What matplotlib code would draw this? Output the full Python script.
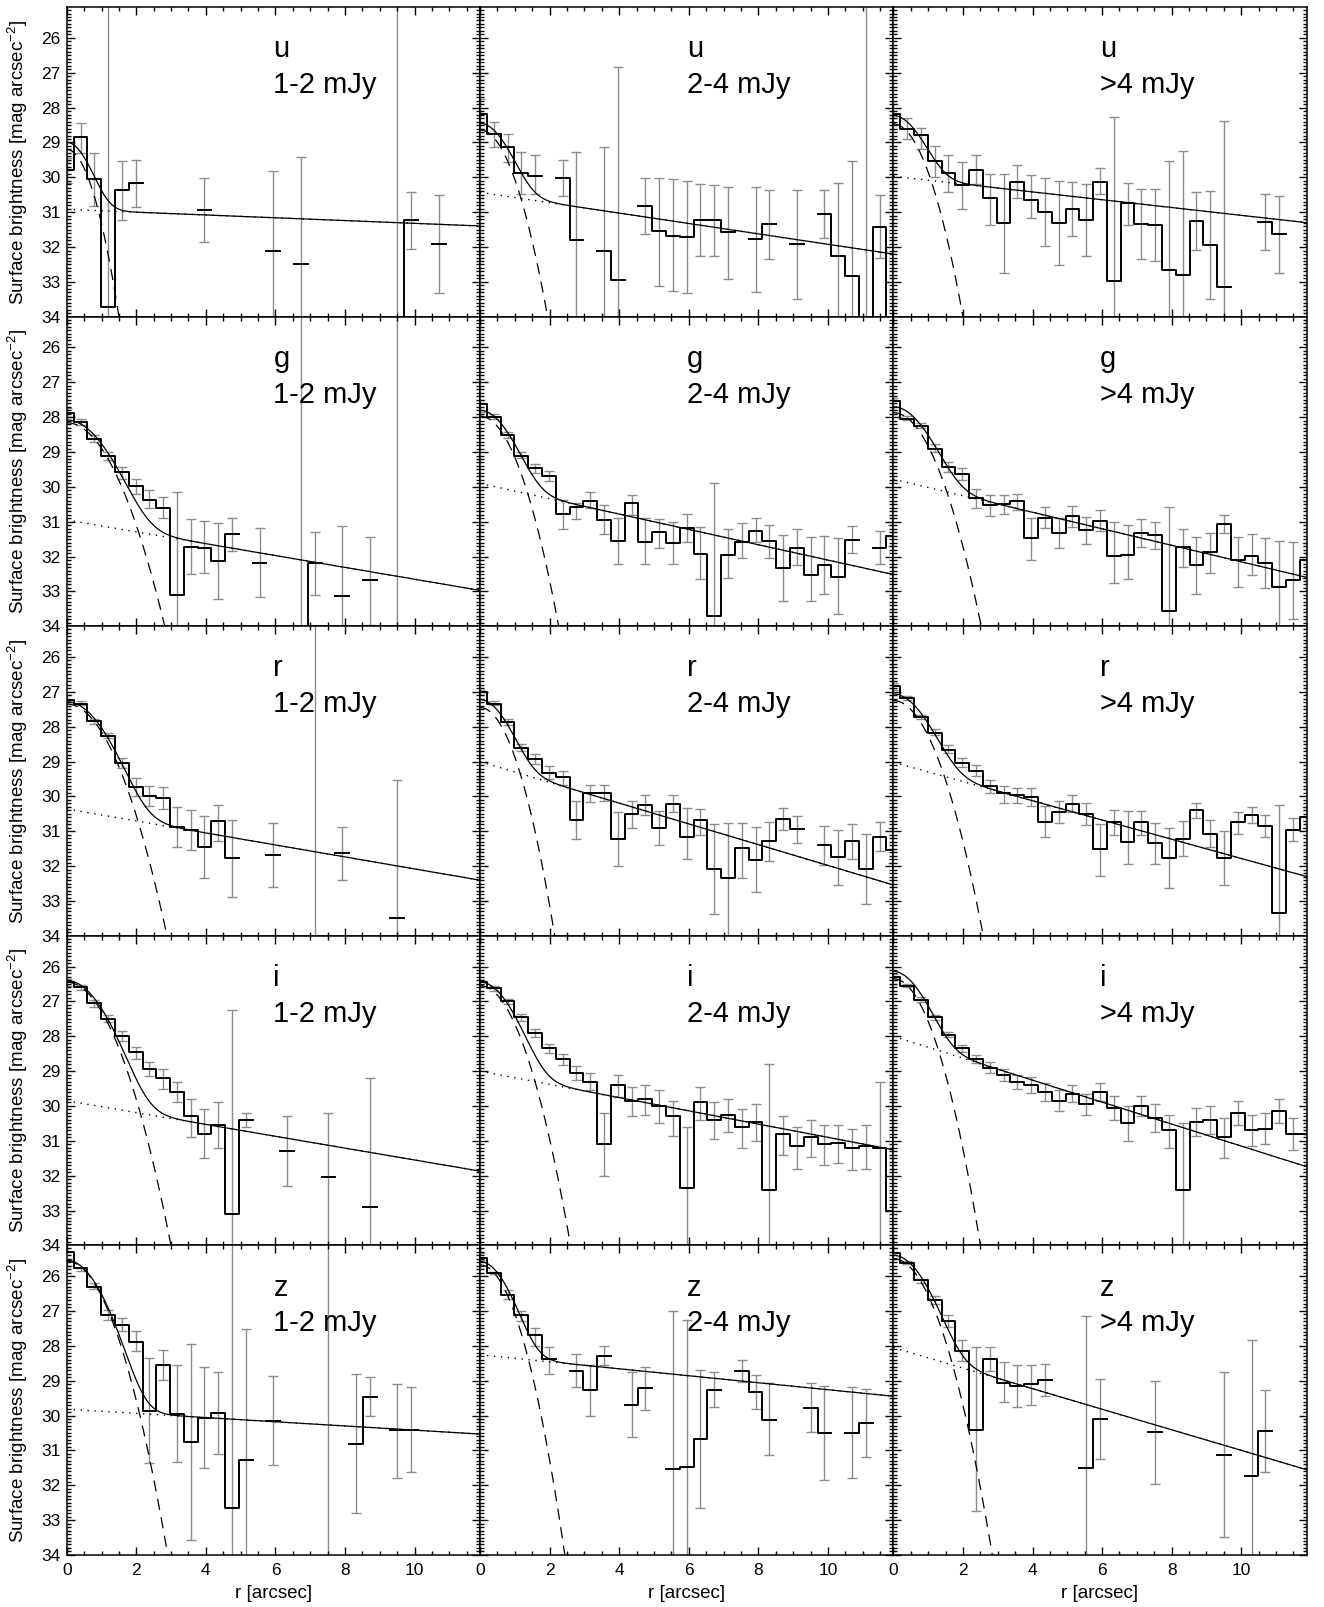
"""
Radial surface-brightness profiles, u g r i z bands x three flux bins.
Step histogram = stacked profile, grey bars = errors,
dashed = PSF component, dotted = extended component, solid = sum.
"""
import numpy as np
import matplotlib
matplotlib.use("Agg")
import matplotlib.pyplot as plt
from matplotlib.ticker import MultipleLocator

plt.rcParams["font.family"] = ["Liberation Sans", "DejaVu Sans"]
plt.rcParams["mathtext.fontset"] = "custom"
plt.rcParams["mathtext.rm"] = "Liberation Sans"

N = None

# ── bin centres [arcsec] (one SDSS pixel = 0.396") ───────────────
R_BINS = [0.0, 0.396, 0.792, 1.188, 1.584, 1.98, 2.376, 2.772, 3.168, 3.564,
          3.96, 4.356, 4.752, 5.148, 5.544, 5.94, 6.336, 6.732, 7.128, 7.524,
          7.92, 8.316, 8.712, 9.108, 9.504, 9.9, 10.296, 10.692, 11.088, 11.484,
          11.88]

BANDS = ["u", "g", "r", "i", "z"]
FLUX_LABELS = ["1-2 mJy", "2-4 mJy", ">4 mJy"]

# ── u band ────────────────────────────────────────────────────────
U1_SB = [29.80, 28.84, 30.06, 33.71, 30.35, 30.17, N, N, N, N,
         30.93, N, N, N, N, 32.10, N, 32.48, N, N,
         N, N, N, N, 35.0, 31.23, N, 31.90, N, N,
         N]
U1_LO = [29.45, 28.45, 29.29, 20.0, 29.53, 29.51, N, N, N, N,
         30.01, N, N, N, N, 29.82, N, 29.43, N, N,
         N, N, N, N, 20.0, 30.42, N, 30.51, N, N,
         N]
U1_HI = [30.15, 29.30, 30.81, 40.0, 31.21, 30.85, N, N, N, N,
         31.86, N, N, N, N, 36.0, N, 36.0, N, N,
         N, N, N, N, 40.0, 32.06, N, 33.31, N, N,
         N]

U2_SB = [28.18, 28.76, 29.14, 29.88, 29.95, N, 30.01, 31.80, N, 32.10,
         32.94, N, 30.81, 31.55, 31.67, 31.72, 31.23, 31.23, 31.58, N,
         31.78, 31.33, N, 31.91, N, 31.04, 32.25, 32.82, 35.0, 31.42,
         35.0]
U2_LO = [27.75, 28.42, 28.76, 29.26, 29.36, N, 29.49, 29.26, N, 29.13,
         26.84, N, 30.01, 30.01, 30.06, 30.11, 30.20, 30.23, 30.27, N,
         30.27, 30.37, N, 30.35, N, 30.37, 30.17, 29.53, 20.0, 30.51,
         N]
U2_HI = [28.60, 29.12, 29.57, 30.47, 30.47, N, 30.54, 36.0, N, 36.0,
         36.0, N, 31.62, 33.13, 33.26, 33.33, 32.25, 32.27, 32.92, N,
         33.28, 32.35, N, 33.49, N, 31.75, 36.0, 36.0, 40.0, 32.32,
         N]

U3_SB = [28.18, 28.60, 28.79, 29.53, 29.88, 30.23, 29.79, 30.59, 31.31, 30.12,
         30.65, 31.00, 31.31, 30.90, 31.23, 30.13, 32.96, 30.75, 31.33, 31.38,
         32.65, 32.80, 31.26, 31.95, 33.16, N, N, 31.28, 31.63, N,
         N]
U3_LO = [27.90, 28.30, 28.59, 29.10, 29.36, 29.56, 29.37, 29.89, 29.89, 29.65,
         29.93, 30.01, 30.10, 30.13, 30.18, 29.74, 28.28, 30.15, 30.33, 30.33,
         29.53, 29.24, 30.41, 30.38, 28.39, N, N, 30.49, 30.54, N,
         N]
U3_HI = [28.50, 28.90, 29.19, 30.00, 30.41, 30.92, 30.20, 31.38, 32.73, 30.59,
         31.16, 31.96, 32.51, 31.69, 32.27, 30.47, 36.0, 31.38, 32.34, 32.41,
         36.0, 36.0, 32.08, 33.50, 36.0, N, N, 32.08, 32.73, N,
         N]

# ── g band ────────────────────────────────────────────────────────
G1_SB = [27.87, 28.13, 28.63, 29.11, 29.58, 29.98, 30.39, 30.62, 33.10, 31.72,
         31.74, 32.13, 31.35, N, 32.17, N, N, 35.0, 32.18, N,
         33.13, N, 32.68, N, N, N, N, N, N, N,
         N]
G1_LO = [27.75, 28.06, 28.51, 28.99, 29.42, 29.78, 30.09, 30.28, 30.14, 30.93,
         30.97, 31.05, 30.88, N, 31.19, N, N, 20.0, 31.29, N,
         31.12, N, 31.45, N, 20.0, N, N, N, N, N,
         N]
G1_HI = [28.00, 28.23, 28.72, 29.23, 29.76, 30.19, 30.62, 30.90, 36.0, 32.51,
         32.48, 33.22, 31.84, N, 33.15, N, N, 40.0, 33.10, N,
         36.0, N, 33.95, N, 40.0, N, N, N, N, N,
         N]

G2_SB = [27.61, 27.99, 28.51, 29.11, 29.45, 29.69, 30.78, 30.59, 30.40, 30.95,
         31.55, 30.47, 31.57, 31.30, 31.60, 31.19, 31.93, 33.70, 31.94, 31.57,
         31.26, 31.55, 32.34, 31.74, 32.53, 32.24, 32.58, 31.53, N, 31.74,
         31.40]
G2_LO = [27.50, 27.91, 28.42, 28.99, 29.33, 29.54, 30.38, 30.45, 30.14, 30.52,
         30.88, 30.24, 30.90, 30.92, 31.00, 30.78, 31.16, 29.90, 31.22, 31.05,
         30.90, 31.10, 31.38, 31.21, 31.45, 31.41, 31.48, 31.11, N, 31.26,
         31.10]
G2_HI = [27.85, 28.06, 28.59, 29.18, 29.60, 29.82, 31.21, 30.92, 30.62, 31.35,
         32.21, 30.81, 32.22, 31.76, 32.21, 31.57, 32.64, 36.0, 32.62, 32.05,
         31.57, 32.03, 33.28, 32.24, 33.28, 33.06, 33.66, 31.91, N, 32.20,
         31.70]

G3_SB = [27.54, 28.04, 28.26, 28.90, 29.42, 29.63, 30.33, 30.52, 30.50, 30.40,
         31.48, 30.89, 31.31, 30.84, 31.24, 30.97, 31.98, 31.96, 31.31, 31.38,
         33.55, 31.72, 32.24, 31.88, 31.07, 32.10, 31.98, 32.17, 32.88, 32.67,
         32.10]
G3_LO = [27.45, 27.97, 28.18, 28.78, 29.28, 29.47, 30.06, 30.24, 30.24, 30.19,
         30.88, 30.57, 30.88, 30.54, 30.86, 30.67, 31.00, 31.10, 30.92, 31.00,
         30.57, 31.21, 31.43, 31.31, 30.81, 31.43, 31.36, 31.46, 31.55, 31.57,
         31.60]
G3_HI = [27.80, 28.08, 28.32, 28.99, 29.57, 29.79, 30.60, 30.84, 30.79, 30.67,
         32.10, 31.19, 31.76, 31.14, 31.64, 31.26, 32.75, 32.64, 31.72, 31.79,
         36.0, 32.29, 33.08, 32.48, 31.31, 32.86, 32.53, 32.89, 36.0, 33.79,
         32.60]

# ── r band ────────────────────────────────────────────────────────
R1_SB = [27.22, 27.34, 27.85, 28.26, 29.04, 29.73, 30.00, 30.04, 30.89, 30.97,
         31.46, 30.71, 31.78, N, N, 31.69, N, N, N, N,
         31.62, N, N, N, 33.50, N, N, N, N, N,
         N]
R1_LO = [27.10, 27.27, 27.78, 28.18, 28.90, 29.47, 29.69, 29.74, 30.31, 30.40,
         30.57, 30.26, 30.68, N, N, 30.76, N, N, 20.0, N,
         30.89, N, N, N, 29.52, N, N, N, N, N,
         N]
R1_HI = [27.30, 27.37, 27.92, 28.32, 29.18, 30.00, 30.28, 30.35, 31.46, 31.55,
         32.34, 31.29, 32.88, N, N, 32.60, N, N, 40.0, N,
         32.39, N, N, N, 36.0, N, N, N, N, N,
         N]

R2_SB = [27.00, 27.34, 27.86, 28.61, 28.92, 29.33, 29.45, 30.68, 29.90, 29.90,
         31.21, 30.50, 30.25, 30.90, 30.21, 31.17, 30.69, 32.07, 32.34, 31.48,
         31.81, 31.29, 30.65, 30.93, N, 31.40, 31.75, 31.29, 32.07, 31.16,
         31.55]
R2_LO = [26.95, 27.27, 27.77, 28.49, 28.77, 29.14, 29.28, 30.14, 29.66, 29.68,
         30.45, 30.14, 29.97, 30.43, 29.95, 30.33, 30.35, 30.78, 30.76, 30.76,
         30.89, 30.74, 30.33, 30.55, N, 30.84, 30.97, 30.79, 31.07, 30.73,
         30.90]
R2_HI = [27.10, 27.39, 27.94, 28.71, 29.07, 29.50, 29.66, 31.22, 30.16, 30.14,
         32.00, 30.90, 30.54, 31.40, 30.45, 31.79, 31.10, 33.37, 36.0, 32.34,
         32.74, 31.84, 30.95, 31.33, N, 31.98, 32.53, 31.79, 33.08, 31.57,
         31.90]

R3_SB = [26.84, 27.18, 27.72, 28.18, 28.66, 29.04, 29.26, 29.71, 29.90, 29.95,
         30.02, 30.74, 30.45, 30.22, 30.50, 31.51, 30.74, 31.31, 30.74, 31.33,
         31.76, 31.21, 30.40, 31.08, 31.76, 30.74, 30.54, 30.86, 33.34, 30.95,
         30.59]
R3_LO = [26.75, 27.13, 27.65, 28.08, 28.53, 28.90, 29.09, 29.52, 29.71, 29.76,
         29.76, 30.28, 30.12, 29.97, 30.19, 30.78, 30.38, 30.43, 30.43, 30.76,
         30.90, 30.71, 30.19, 30.68, 30.98, 30.45, 30.30, 30.54, 30.24, 30.62,
         30.30]
R3_HI = [26.95, 27.22, 27.78, 28.25, 28.75, 29.15, 29.42, 29.90, 30.19, 30.19,
         30.28, 31.17, 30.76, 30.45, 30.83, 32.29, 31.10, 31.94, 31.10, 31.93,
         32.63, 31.70, 30.62, 31.45, 32.55, 31.07, 30.76, 31.17, 36.0, 31.27,
         30.90]

# ── i band ────────────────────────────────────────────────────────
I1_SB = [26.45, 26.60, 27.05, 27.50, 28.00, 28.45, 28.95, 29.20, 29.60, 30.30,
         30.80, 30.55, 33.10, 30.40, N, N, 31.30, N, N, 32.05,
         N, N, 32.90, N, N, N, N, N, N, N,
         N]
I1_LO = [26.35, 26.52, 26.95, 27.40, 27.85, 28.30, 28.75, 28.95, 29.30, 29.80,
         30.10, 29.90, 27.25, 30.20, N, N, 30.30, N, N, 30.20,
         N, N, 29.20, N, N, N, N, N, N, N,
         N]
I1_HI = [26.55, 26.68, 27.15, 27.60, 28.15, 28.65, 29.15, 29.50, 29.90, 30.90,
         31.50, 31.20, 36.0, 30.60, N, N, 32.30, N, N, 36.0,
         N, N, 36.0, N, N, N, N, N, N, N,
         N]

I2_SB = [26.45, 26.62, 27.00, 27.45, 27.90, 28.35, 28.65, 29.05, 29.30, 31.10,
         29.40, 29.85, 29.80, 30.00, 30.30, 32.35, 29.90, 30.40, 30.25, 30.60,
         30.45, 32.40, 30.80, 31.15, 30.90, 31.10, 31.05, 31.20, 31.15, 31.20,
         33.00]
I2_LO = [26.38, 26.56, 26.92, 27.36, 27.80, 28.22, 28.50, 28.85, 29.05, 30.20,
         29.10, 29.45, 29.40, 29.55, 29.85, 30.60, 29.45, 29.90, 29.80, 30.10,
         29.95, 28.80, 30.30, 30.60, 30.40, 30.55, 30.55, 30.65, 30.55, 29.30,
         N]
I2_HI = [26.55, 26.70, 27.08, 27.55, 28.02, 28.48, 28.82, 29.25, 29.55, 32.00,
         29.75, 30.30, 30.25, 30.50, 30.85, 36.0, 30.40, 30.95, 30.75, 31.20,
         31.00, 36.0, 31.40, 31.80, 31.45, 31.70, 31.65, 31.85, 31.80, 36.0,
         N]

I3_SB = [26.30, 26.55, 26.95, 27.45, 27.95, 28.35, 28.65, 28.90, 29.10, 29.30,
         29.40, 29.60, 29.85, 29.65, 29.95, 29.60, 30.05, 30.50, 30.00, 30.35,
         30.70, 32.40, 30.45, 30.40, 30.90, 30.20, 30.70, 30.65, 30.15, 30.80,
         30.80]
I3_LO = [26.22, 26.50, 26.88, 27.38, 27.87, 28.25, 28.53, 28.75, 28.93, 29.10,
         29.18, 29.35, 29.55, 29.40, 29.65, 29.35, 29.70, 30.00, 29.70, 29.95,
         30.25, 30.50, 30.05, 30.00, 30.35, 29.85, 30.25, 30.20, 29.80, 30.35,
         30.40]
I3_HI = [26.38, 26.60, 27.02, 27.52, 28.03, 28.45, 28.77, 29.05, 29.27, 29.50,
         29.62, 29.85, 30.15, 29.90, 30.25, 29.85, 30.40, 31.00, 30.30, 30.75,
         31.20, 36.0, 30.85, 30.80, 31.50, 30.55, 31.15, 31.10, 30.50, 31.25,
         31.20]

# ── z band ────────────────────────────────────────────────────────
Z1_SB = [25.30, 25.76, 26.31, 27.12, 27.39, 27.89, 29.86, 28.55, 29.95, 30.77,
         30.07, 29.93, 32.66, 31.29, N, 30.17, N, N, N, N,
         N, 30.81, 29.47, N, 30.43, 30.41, N, N, N, N,
         N]
Z1_LO = [25.50, 25.78, 26.19, 26.96, 27.20, 27.58, 28.35, 28.11, 28.56, 27.96,
         28.61, 28.76, 20.0, 27.53, N, 28.87, N, N, N, 20.0,
         N, 28.81, 28.90, N, 29.11, 29.18, N, N, N, N,
         N]
Z1_HI = [25.70, 25.86, 26.38, 27.25, 27.58, 28.16, 31.36, 28.97, 31.34, 33.57,
         31.51, 31.10, 40.0, 36.0, N, 31.41, N, N, N, 40.0,
         N, 32.80, 30.02, N, 31.80, 31.63, N, N, N, N,
         N]

Z2_SB = [25.47, 25.92, 26.53, 27.13, 27.70, 28.37, N, 28.73, 29.28, 28.30,
         N, 29.69, 29.21, N, 31.53, 31.48, 30.66, 29.26, N, 28.73,
         29.32, 30.12, N, N, 29.78, 30.50, N, 30.50, 30.21, N,
         N]
Z2_LO = [25.35, 25.88, 26.40, 26.99, 27.48, 28.03, N, 28.25, 28.54, 28.01,
         N, 28.76, 28.61, N, 27.00, 27.26, 28.70, 28.75, N, 28.42,
         28.83, 29.08, N, N, 29.08, 29.14, N, 29.19, 29.24, N,
         N]
Z2_HI = [25.55, 25.95, 26.67, 27.29, 28.01, 28.80, N, 29.19, 30.02, 28.54,
         N, 30.63, 29.83, N, 36.0, 36.0, 32.64, 29.76, N, 29.05,
         29.81, 31.14, N, N, 30.47, 31.86, N, 31.78, 31.20, N,
         N]

Z3_SB = [25.33, 25.62, 26.11, 26.69, 27.29, 28.16, 30.41, 28.39, 29.07, 29.14,
         29.11, 28.97, N, N, 31.51, 30.10, N, N, N, 30.48,
         N, N, N, N, 31.12, N, 31.73, 30.45, N, N,
         N]
Z3_LO = [25.20, 25.57, 26.08, 26.57, 27.12, 27.82, 28.04, 28.04, 28.47, 28.54,
         28.54, 28.52, N, N, 27.15, 28.95, N, N, N, 29.00,
         N, N, N, N, 28.76, N, 27.82, 29.26, N, N,
         N]
Z3_HI = [25.50, 25.66, 26.21, 26.81, 27.46, 28.44, 32.75, 28.73, 29.62, 29.75,
         29.69, 29.45, N, N, 36.0, 31.25, N, N, N, 31.96,
         N, N, N, N, 33.49, N, 36.0, 31.63, N, N,
         N]

# ── fit parameters (rows u g r i z, cols 1-2 / 2-4 / >4 mJy) ─────
# PSF: m = PSF_M0 + PSF_A * r^2 ; extended: m = DISK_M0 + DISK_SLOPE * r
PSF_M0 = [[29.20, 28.64, 28.47],
          [28.16, 27.97, 27.87],
          [27.35, 27.45, 27.25],
          [26.45, 26.55, 26.35],
          [25.57, 25.68, 25.50]]
PSF_A = [[2.13, 1.42, 1.38],
         [0.735, 1.18, 0.96],
         [0.80, 1.42, 1.01],
         [0.84, 1.10, 1.22],
         [1.00, 1.40, 1.05]]
DISK_M0 = [[30.92, 30.43, 29.97],
           [30.95, 29.90, 29.78],
           [30.36, 29.00, 29.02],
           [29.85, 29.00, 28.00],
           [29.82, 28.26, 28.05]]
DISK_SLOPE = [[0.040, 0.149, 0.112],
              [0.170, 0.220, 0.237],
              [0.172, 0.298, 0.276],
              [0.170, 0.190, 0.315],
              [0.060, 0.100, 0.295]]

PROFILES = {
    (0, 0): (U1_SB, U1_LO, U1_HI), (0, 1): (U2_SB, U2_LO, U2_HI), (0, 2): (U3_SB, U3_LO, U3_HI),
    (1, 0): (G1_SB, G1_LO, G1_HI), (1, 1): (G2_SB, G2_LO, G2_HI), (1, 2): (G3_SB, G3_LO, G3_HI),
    (2, 0): (R1_SB, R1_LO, R1_HI), (2, 1): (R2_SB, R2_LO, R2_HI), (2, 2): (R3_SB, R3_LO, R3_HI),
    (3, 0): (I1_SB, I1_LO, I1_HI), (3, 1): (I2_SB, I2_LO, I2_HI), (3, 2): (I3_SB, I3_LO, I3_HI),
    (4, 0): (Z1_SB, Z1_LO, Z1_HI), (4, 1): (Z2_SB, Z2_LO, Z2_HI), (4, 2): (Z3_SB, Z3_LO, Z3_HI),
}

XMAX = 11.88
YLIM = (34.0, 25.12)
ERR_COLOR = "#8c8c8c"


def to_arr(vals):
    return np.array([np.nan if v is None else v for v in vals], dtype=float)


def draw_panel(ax, row, col):
    r = np.array(R_BINS)
    sb, lo, hi = (to_arr(a) for a in PROFILES[(row, col)])

    # error bars
    ax.errorbar(r, (lo + hi) / 2, yerr=(hi - lo) / 2, fmt="none",
                ecolor=ERR_COLOR, elinewidth=1.0, capsize=3.6, capthick=1.0, zorder=1)

    # model components
    rr = np.linspace(0, XMAX, 500)
    psf = PSF_M0[row][col] + PSF_A[row][col] * rr ** 2
    disk = DISK_M0[row][col] + DISK_SLOPE[row][col] * rr
    tot = -2.5 * np.log10(10 ** (-0.4 * psf) + 10 ** (-0.4 * disk))
    ax.plot(rr, psf, color="k", lw=0.9, ls=(0, (9, 6)), zorder=2)
    ax.plot(rr, disk, color="k", lw=1.0, ls=(0, (1, 4)), zorder=2)
    ax.plot(rr, tot, color="k", lw=0.9, zorder=2)

    # stacked profile
    ax.step(r, sb, where="mid", color="k", lw=1.4, zorder=3)

    ax.text(0.5, 0.838, BANDS[row], transform=ax.transAxes, fontsize=21)
    ax.text(0.5, 0.722, FLUX_LABELS[col], transform=ax.transAxes, fontsize=21)

    ax.set_xlim(0, XMAX)
    ax.set_ylim(*YLIM)
    ax.xaxis.set_major_locator(MultipleLocator(2))
    ax.xaxis.set_minor_locator(MultipleLocator(0.5))
    ax.yaxis.set_major_locator(MultipleLocator(1))
    ax.yaxis.set_minor_locator(MultipleLocator(0.1))
    ax.tick_params(which="both", direction="in", top=True, right=True, width=1.0)
    ax.tick_params(which="major", length=5.5, labelsize=12.5)
    ax.tick_params(axis="y", which="major", pad=4.5)
    ax.tick_params(axis="x", which="major", pad=6)
    ax.tick_params(which="minor", length=2.8)
    for s in ax.spines.values():
        s.set_linewidth(1.1)


def run():
    fig, axes = plt.subplots(5, 3, figsize=(13.24, 16.07), dpi=100, sharex=True, sharey=True)
    fig.subplots_adjust(left=0.0504, right=0.9869, top=0.9955, bottom=0.0324,
                        wspace=0, hspace=0)
    for row in range(5):
        for col in range(3):
            draw_panel(axes[row, col], row, col)
        pos = axes[row, 0].get_position()
        fig.text(18 / 1324, (pos.y0 + pos.y1) / 2,
                 r"Surface brightness [mag arcsec$^{\mathrm{-2}}$]",
                 rotation=90, ha="center", va="center", fontsize=13.5)
    for col in range(3):
        pos = axes[4, col].get_position()
        fig.text((pos.x0 + pos.x1) / 2, 1 - 1594 / 1607, "r [arcsec]",
                 ha="center", va="center", fontsize=13.5)
    fig.savefig("out.png", dpi=100)


if __name__ == "__main__":
    run()
